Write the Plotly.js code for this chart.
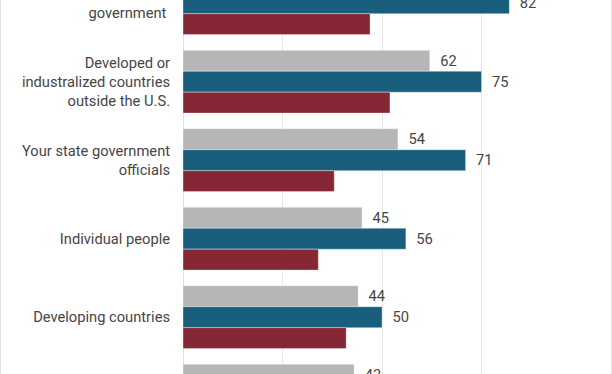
<!DOCTYPE html>
<html>
<head>
<meta charset="utf-8">
<script src="https://cdn.plot.ly/plotly-3.0.1.min.js"></script>
<style>
  html, body { margin: 0; padding: 0; background: #fff; }
  #wrap { position: relative; width: 612px; height: 374px; overflow: hidden; }
  #chart { width: 612px; height: 374px; }
  .edge { position: absolute; top: 0; width: 1px; height: 374px; background: #e3e3e3; pointer-events: none; }
</style>
</head>
<body>
<div id="wrap">
  <div id="chart"></div>
  <div class="edge" style="left:0"></div>
  <div class="edge" style="right:0"></div>
</div>
<script>
// Categories, top to bottom (first and last rows are partly cut off in the picture)
const categories = [
  "The U.S. federal<br>government&#160;",
  "Developed or<br>industralized countries<br>outside the U.S.",
  "Your state government<br>officials",
  "Individual people",
  "Developing countries",
  "Other groups"
];
const seriesNames = ["Series A", "Series B", "Series C"];
const grayValues = [70, 62, 54, 45, 44, 43];
const blueValues = [82, 75, 71, 56, 50, 48];
const redValues  = [47, 52, 38, 34, 41, 36];
const xTicks = [0, 25, 50, 75, 100];

const colors = ["#b6b6b6", "#1a5e7e", "#852735"];
const tickFont = { family: "Roboto, 'Open Sans', sans-serif", size: 14.7, color: "#454545" };
const valueFont = { family: "Roboto, 'Open Sans', sans-serif", size: 14.7, color: "#454545" };

function barTrace(name, values, color, showText) {
  return {
    type: "bar",
    orientation: "h",
    name: name,
    y: categories,
    x: values,
    marker: { color: color, line: { color: "rgba(255,255,255,0.35)", width: 1 } },
    texttemplate: showText ? "\u2002%{x}" : "",
    textposition: showText ? "outside" : "none",
    textfont: valueFont,
    cliponaxis: true,
    hoverinfo: "x+y"
  };
}

const data = [
  barTrace(seriesNames[0], grayValues, colors[0], true),
  barTrace(seriesNames[1], blueValues, colors[1], true),
  barTrace(seriesNames[2], redValues, colors[2], false)
];

const layout = {
  width: 612,
  height: 374,
  margin: { l: 183, r: 31, t: 0, b: 0, pad: 0 },
  paper_bgcolor: "#ffffff",
  plot_bgcolor: "#ffffff",
  showlegend: false,
  barmode: "group",
  bargap: 0.2,
  bargroupgap: 0,
  font: tickFont,
  xaxis: {
    range: [0, 100],
    tickvals: xTicks,
    showticklabels: false,
    showgrid: true,
    gridcolor: "#e6e6e6",
    gridwidth: 1,
    zeroline: true,
    zerolinecolor: "#e0e0e0",
    zerolinewidth: 1,
    showline: false,
    fixedrange: true
  },
  yaxis: {
    type: "category",
    categoryorder: "array",
    categoryarray: categories,
    range: [4.724, -0.041],
    showgrid: false,
    zeroline: false,
    showline: false,
    ticks: "outside",
    ticklen: 9,
    tickcolor: "rgba(0,0,0,0)",
    tickfont: tickFont,
    automargin: false,
    fixedrange: true
  }
};

Plotly.newPlot("chart", data, layout, { displayModeBar: false, staticPlot: true });
</script>
</body>
</html>
